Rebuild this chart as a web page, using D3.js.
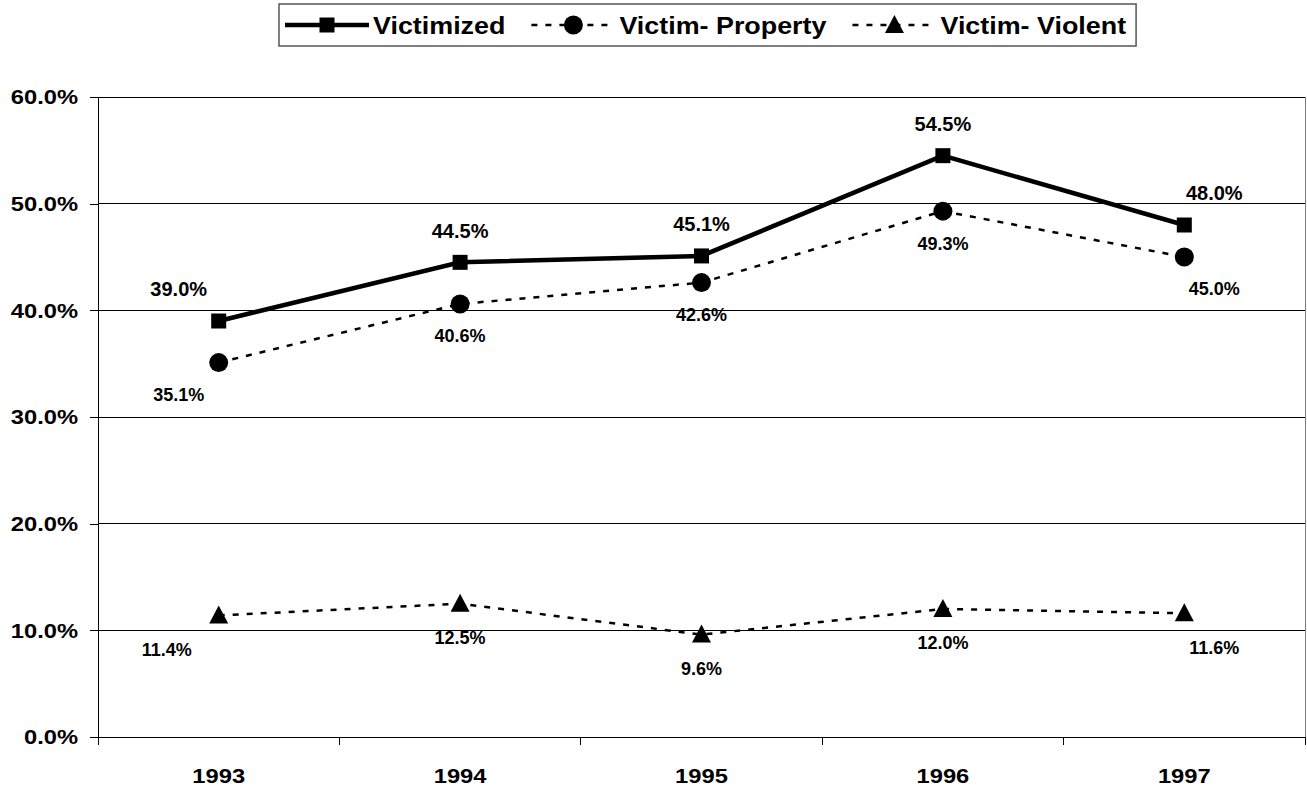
<!DOCTYPE html>
<html lang="en">
<head>
    <meta charset="UTF-8">
    <title>Victimization rates 1993-1997</title>
    <script src="https://d3js.org/d3.v7.min.js"></script>
    <style>
        body {margin: 0; background: white;}
        svg {display: block; font-family: "Liberation Sans", Arial, sans-serif; font-weight: bold;}
    </style>
</head>
<body>
<script>
    const width = 1307;
    const height = 790;

    // data
    const years = ["1993", "1994", "1995", "1996", "1997"];
    const victimized = [39.0, 44.5, 45.1, 54.5, 48.0];
    const victimProperty = [35.1, 40.6, 42.6, 49.3, 45.0];
    const victimViolent = [11.4, 12.5, 9.6, 12.0, 11.6];
    const yTicks = [0, 10, 20, 30, 40, 50, 60];
    const seriesNames = ["Victimized", "Victim- Property", "Victim- Violent"];

    // label placement (first and last labels sit off to the side)
    const series = [
        {name: seriesNames[0], values: victimized, marker: "square", dashed: false,
            labelDx: [-40, 0, 0, 0, 30], labelDy: -32, fontSize: 20},
        {name: seriesNames[1], values: victimProperty, marker: "circle", dashed: true,
            labelDx: [-40, 0, 0, 0, 30], labelDy: 32, fontSize: 18},
        {name: seriesNames[2], values: victimViolent, marker: "triangle", dashed: true,
            labelDx: [-52, 0, 0, 0, 30], labelDy: 34, fontSize: 18}
    ];

    const margin = {left: 98, right: 2, top: 97, bottom: 53};

    const svg = d3.select("body").append("svg")
            .attr("width", width).attr("height", height);

    const x = d3.scaleBand()
            .domain(years)
            .range([margin.left, width - margin.right]);

    const y = d3.scaleLinear()
            .domain([0, 60])
            .range([height - margin.bottom, margin.top]);

    const cx = d => x(d) + x.bandwidth() / 2;

    // gridlines
    svg.append("g").attr("class", "grid")
            .selectAll("line").data(yTicks).enter()
            .append("line")
            .attr("x1", margin.left).attr("x2", width - margin.right)
            .attr("y1", d => y(d)).attr("y2", d => y(d))
            .attr("stroke", "#000").attr("stroke-width", 1)
            .attr("shape-rendering", "crispEdges");

    // right border of plot area
    svg.append("line")
            .attr("x1", width - margin.right).attr("x2", width - margin.right)
            .attr("y1", y(60)).attr("y2", y(0) + 8)
            .attr("stroke", "#808080").attr("stroke-width", 1)
            .attr("shape-rendering", "crispEdges");

    // y axis
    const yAxis = svg.append("g")
            .attr("transform", `translate(${margin.left},0)`)
            .call(d3.axisLeft(y).tickValues(yTicks).tickSize(8).tickPadding(12)
                    .tickFormat(d => d.toFixed(1) + "%"));
    yAxis.select(".domain").attr("stroke", "#000").attr("shape-rendering", "crispEdges");
    yAxis.selectAll(".tick line").attr("stroke", "#000").attr("shape-rendering", "crispEdges");
    yAxis.selectAll(".tick text")
            .attr("font-size", 21).attr("font-weight", "bold")
            .attr("font-family", "'Liberation Sans', Arial, sans-serif")
            .attr("fill", "#000")
            .attr("x", -20 / 1.13)
            .attr("transform", "scale(1.13,1)");

    // x axis
    const xAxisG = svg.append("g")
            .attr("transform", `translate(0,${y(0)})`);
    xAxisG.append("line")
            .attr("x1", margin.left).attr("x2", width - margin.right)
            .attr("stroke", "#000").attr("shape-rendering", "crispEdges");
    const bounds = years.map(d => x(d)).concat([width - margin.right]);
    xAxisG.selectAll("line.tick").data(bounds).enter()
            .append("line").attr("class", "tick")
            .attr("x1", d => d).attr("x2", d => d)
            .attr("y1", 0).attr("y2", 8)
            .attr("stroke", "#000").attr("shape-rendering", "crispEdges");
    xAxisG.selectAll("text").data(years).enter()
            .append("text")
            .attr("transform", d => `translate(${cx(d)},46) scale(1.13,1)`)
            .attr("text-anchor", "middle")
            .attr("font-size", 21)
            .text(d => d);

    // series
    const line = d3.line()
            .x((d, i) => cx(years[i]))
            .y(d => y(d));

    function drawMarker(g, type, px, py) {
        if (type === "square") {
            g.append("rect").attr("x", px - 7.5).attr("y", py - 7.5)
                    .attr("width", 15).attr("height", 15).attr("fill", "#000");
        } else if (type === "circle") {
            g.append("circle").attr("cx", px).attr("cy", py).attr("r", 9.5).attr("fill", "#000");
        } else {
            g.append("path")
                    .attr("d", `M${px},${py - 10}L${px + 9.5},${py + 8}L${px - 9.5},${py + 8}Z`)
                    .attr("fill", "#000");
        }
    }

    series.slice().reverse().forEach(s => {
        const g = svg.append("g").attr("class", "series");
        g.append("path")
                .datum(s.values)
                .attr("d", line)
                .attr("fill", "none")
                .attr("stroke", "#000")
                .attr("stroke-width", s.dashed ? 2.5 : 4.5)
                .attr("stroke-dasharray", s.dashed ? "6,8" : null);
        s.values.forEach((v, i) => drawMarker(g, s.marker, cx(years[i]), y(v)));
        g.selectAll("text.label").data(s.values).enter()
                .append("text").attr("class", "label")
                .attr("x", (d, i) => cx(years[i]) + s.labelDx[i])
                .attr("y", d => y(d) + s.labelDy)
                .attr("dy", "0.36em")
                .attr("text-anchor", "middle")
                .attr("font-size", s.fontSize)
                .text(d => d.toFixed(1) + "%");
    });

    // legend
    const legend = svg.append("g").attr("class", "legend");
    const box = legend.append("rect")
            .attr("fill", "white").attr("stroke", "#555").attr("stroke-width", 1.5);
    const legendY = 25;
    const stretch = 1.12;
    let lx = 285;
    series.forEach((s, i) => {
        const g = legend.append("g");
        const sw = 84;
        g.append("line")
                .attr("x1", lx).attr("x2", lx + sw)
                .attr("y1", legendY).attr("y2", legendY)
                .attr("stroke", "#000")
                .attr("stroke-width", s.dashed ? 2.5 : 4.5)
                .attr("stroke-dasharray", s.dashed ? "6,8" : null);
        drawMarker(g, s.marker, lx + sw / 2, legendY);
        const t = g.append("text")
                .attr("transform", `translate(${lx + sw + 4},${legendY}) scale(${stretch},1)`)
                .attr("dy", "0.36em")
                .attr("font-size", 24)
                .text(s.name);
        lx += sw + 4 + t.node().getComputedTextLength() * stretch + 26;
    });
    box.attr("x", 279).attr("y", 4).attr("width", lx - 26 + 10 - 279).attr("height", 42);
</script>
</body>
</html>
